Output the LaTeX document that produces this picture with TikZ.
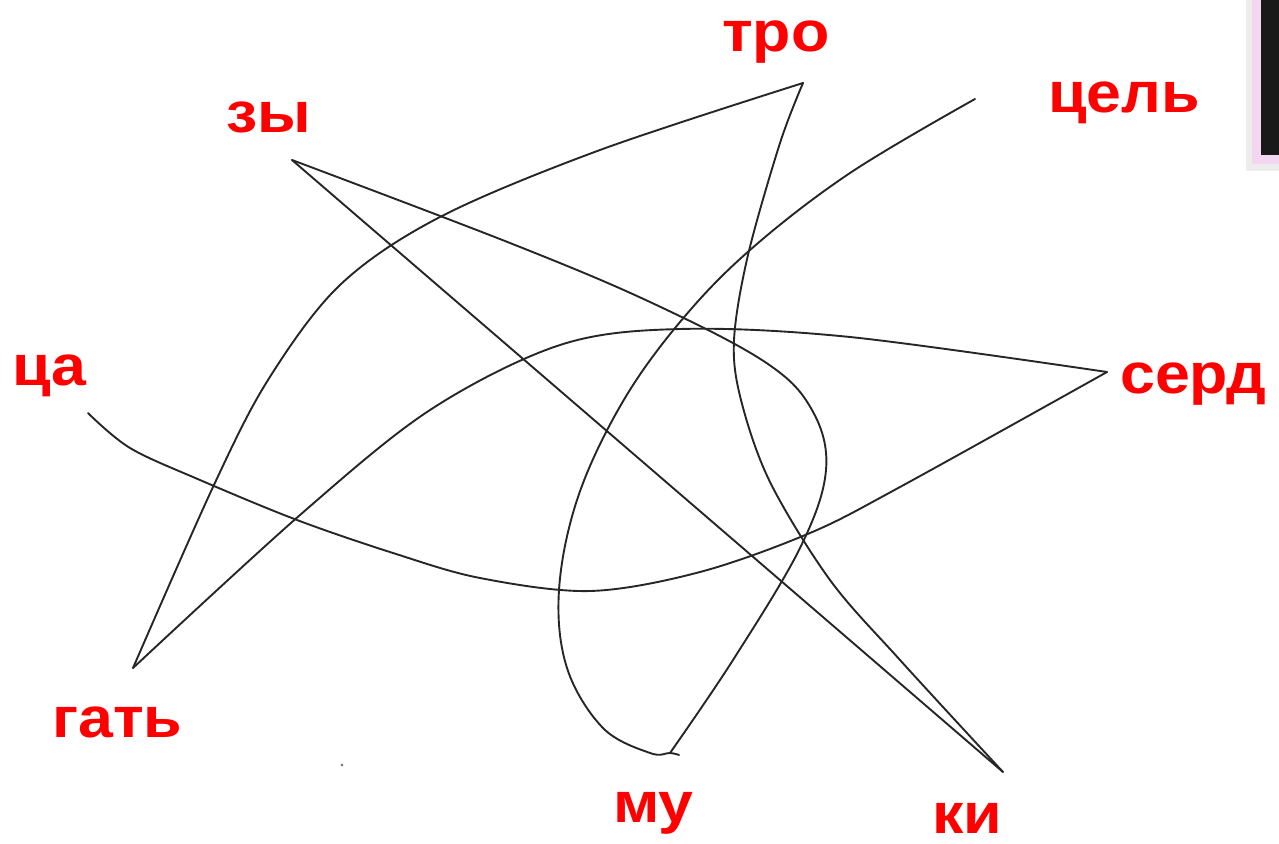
\documentclass[tikz,border=0pt]{standalone}
\usepackage{fontspec}
\setmainfont{Liberation Sans}
\definecolor{boxpink}{RGB}{244,214,240}
\begin{document}
\begin{tikzpicture}[x=1pt,y=-1pt,
  curve/.style={draw=black!85,line width=1.9pt,line join=round,line cap=round},
  lbl/.style={anchor=base west,inner sep=0pt,text=red,font=\fontsize{57}{60}\selectfont\bfseries}]
\useasboundingbox (0,0) rectangle (1279,843);
% top-right dark box
\fill[black!7] (1246,-5) rectangle (1285,171);
\fill[boxpink] (1252,-5) rectangle (1285,164);
\fill[black!90] (1261,-5) rectangle (1285,155);
% stray dot
\fill[black!60] (342,765) circle (1.3);
% end points
\coordinate (cel) at (975,99);
\coordinate (mu) at (670,753);
\coordinate (zy) at (292,160);
\coordinate (ki) at (1003,772);
\coordinate (tro) at (803,83);
\coordinate (gat) at (133,668);
\coordinate (serd) at (1107,372);
\coordinate (ca) at (88,413);
% the single route, piece by piece
\draw[curve] plot[smooth,tension=0.6] coordinates {(cel) (850,173) (750,250) (680,322) (622,403) (578,497) (559,590) (567,668) (603,728) (650,753) (mu) (679,755)};
\draw[curve] plot[smooth,tension=0.6] coordinates {(mu) (733,660) (800,548) (826,470) (812,410) (765,362) (650,302) (510,243) (zy)};
\draw[curve] (zy) -- (ki);
\draw[curve] plot[smooth,tension=0.55] coordinates {(ki) (900,660) (830,580) (770,482) (741,400) (734,340) (748,255) (780,143) (tro)};
\draw[curve] plot[smooth,tension=0.55] coordinates {(tro) (600,150) (440,217) (340,285) (268,380) (213,487) (gat)};
\draw[curve] plot[smooth,tension=0.55] coordinates {(gat) (300,515) (430,410) (560,345) (680,329) (850,337) (serd)};
\draw[curve] plot[smooth,tension=0.55] coordinates {(serd) (900,487) (810,533) (700,572) (590,591) (480,578) (393,553) (297,520) (200,480) (130,448) (ca)};
% labels
\node[lbl] (Ltro) at (722,52) {\scalebox{1.1}[1]{тро}};
\node[lbl] (Lzy) at (226,132) {\scalebox{1.1}[1]{зы}};
\node[lbl] (Lcel) at (1048,112) {\scalebox{1.1}[1]{цель}};
\node[lbl] (Lca) at (12,385) {\scalebox{1.1}[1]{ца}};
\node[lbl] (Lserd) at (1120,393) {\scalebox{1.1}[1]{серд}};
\node[lbl] (Lgat) at (52,737) {\scalebox{1.1}[1]{гать}};
\node[lbl] (Lmu) at (613,822) {\scalebox{1.1}[1]{му}};
\node[lbl] (Lki) at (932,833) {\scalebox{1.1}[1]{ки}};
\end{tikzpicture}
\end{document}
